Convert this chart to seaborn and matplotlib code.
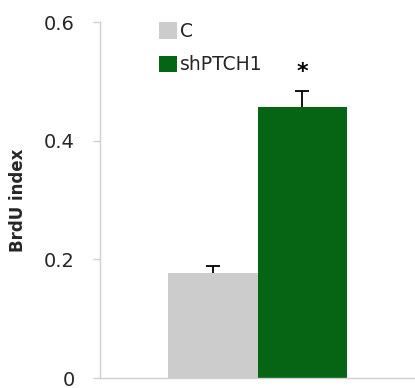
import matplotlib
matplotlib.use("Agg")
import matplotlib.pyplot as plt
import seaborn as sns
import pandas as pd
from matplotlib.patches import Patch

groups = ["C", "shPTCH1"]
values = [0.177, 0.456]
errors = [0.012, 0.027]
colors = ["#cccccc", "#056514"]
yticks = [0, 0.2, 0.4, 0.6]
ytick_labels = ["0", "0.2", "0.4", "0.6"]

sns.set_theme(style="white")
plt.rcParams['font.family'] = ['DejaVu Sans']

df = pd.DataFrame({"cat": ["x", "x"], "group": groups, "value": values})

fig = plt.figure(figsize=(4.15, 3.88), dpi=100)
ax = fig.add_axes([100/415, 10/388, 315/415, (378-22)/388])

sns.barplot(data=df, x="cat", y="value", hue="group", hue_order=groups,
            palette=colors, width=0.571, errorbar=None, ax=ax, saturation=1,
            edgecolor="none", legend=False)

patches = sorted([p for p in ax.patches if p.get_height() > 0], key=lambda p: p.get_x())
for p, v, e in zip(patches, values, errors):
    cx = p.get_x() + p.get_width() / 2
    _, caps, _ = ax.errorbar([cx], [v], yerr=[[0], [e]], fmt="none", ecolor="black",
                             elinewidth=1.3, capsize=5, capthick=1.3)
    if len(caps) == 2:
        caps[0].set_visible(False)

# significance star above the shPTCH1 bar
p = patches[1]
ax.text(p.get_x() + p.get_width() / 2, values[1] + errors[1] + 0.033, "*",
        ha="center", va="center", fontsize=16, fontweight="bold", color="black")

ax.set_ylim(0, 0.6)
ax.set_xlim(-0.5, 0.5)
ax.set_yticks(yticks)
ax.set_yticklabels(ytick_labels, fontsize=14)
ax.set_xticks([])
ax.set_xlabel("")
ax.set_ylabel("BrdU index", fontsize=12, fontweight="bold", labelpad=12)
for s in ["top", "right"]:
    ax.spines[s].set_visible(False)
for s in ["left", "bottom"]:
    ax.spines[s].set_color("#d0d0d0")
    ax.spines[s].set_linewidth(1)
ax.tick_params(axis="y", left=True, length=5, color="#d0d0d0", width=1, pad=13)

handles = [Patch(facecolor=c, edgecolor="none") for c in colors]
leg = ax.legend(handles, groups, loc="upper left", bbox_to_anchor=(0.187, 1.0),
                frameon=False, fontsize=13.5, handlelength=0.95, handleheight=0.95,
                handletextpad=0.15, labelspacing=0.75, borderaxespad=0, borderpad=0)

fig.savefig("out.png", dpi=100)
